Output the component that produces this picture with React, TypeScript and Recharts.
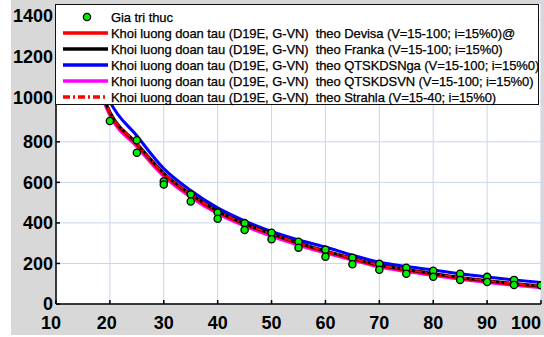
import React from "react";
import {
  ComposedChart,
  Line,
  Scatter,
  XAxis,
  YAxis,
  CartesianGrid,
} from "recharts";

// ---- Data ----
const speeds = [15, 20, 25, 30, 35, 40, 45, 50, 55, 60, 65, 70, 75, 80, 85, 90, 95, 100];
const devisa = [1310, 940, 785, 638, 535, 453, 392, 342, 297, 258, 222, 188, 166, 146, 127, 111, 97, 85];
const franka = [1320, 948, 792, 645, 541, 458, 396, 346, 301, 262, 226, 192, 170, 150, 131, 115, 101, 89];
const qtskdsNga = [1380, 1000, 830, 668, 560, 474, 410, 358, 316, 281, 241, 206, 185, 168, 149, 133, 119, 106];
const qtskdsVN = [1300, 930, 776, 630, 527, 445, 384, 334, 290, 251, 216, 182, 160, 141, 122, 106, 92, 80];
const strahla = [1320, 948, 792, 645, 541, 458, 396, 346, 301, 262, 226, 192, 170, 150, 131, 115, 101, 89];

const obsSpeeds = [20, 25, 25, 30, 30, 35, 35, 40, 40, 45, 45, 50, 50, 55, 55, 60, 60, 65, 65, 70, 70, 75, 75, 80, 80, 85, 85, 90, 90, 95, 95, 100];
const obsMass = [903, 808, 746, 605, 590, 541, 506, 451, 421, 399, 365, 352, 320, 307, 278, 268, 233, 228, 196, 198, 169, 179, 149, 164, 134, 149, 119, 134, 109, 119, 94, 92];

const xTicks = [10, 20, 30, 40, 50, 60, 70, 80, 90, 100];
const yTicks = [0, 200, 400, 600, 800, 1000, 1200, 1400];

const obsName = "Gia tri thuc";
const seriesKeys = ["devisa", "franka", "qtskdsNga", "qtskdsVN", "strahla"];
const seriesNames = [
  "Khoi luong doan tau (D19E, G-VN)  theo Devisa (V=15-100; i=15%0)@",
  "Khoi luong doan tau (D19E, G-VN)  theo Franka (V=15-100; i=15%0)",
  "Khoi luong doan tau (D19E, G-VN)  theo QTSKDSNga (V=15-100; i=15%0)",
  "Khoi luong doan tau (D19E, G-VN)  theo QTSKDSVN (V=15-100; i=15%0)",
  "Khoi luong doan tau (D19E, G-VN)  theo Strahla (V=15-40; i=15%0)",
];
const seriesColors = ["#ff0000", "#000000", "#0000ff", "#ff00ff", "#ff0000"];
const seriesDash = ["", "", "", "", "7 3 2 3"];

const chartData = speeds.map((v, i) => ({
  v,
  devisa: devisa[i],
  franka: franka[i],
  qtskdsNga: qtskdsNga[i],
  qtskdsVN: qtskdsVN[i],
  strahla: strahla[i],
}));
const obsData = obsSpeeds.map((v, i) => ({ v, m: obsMass[i] }));

const tickFont = {
  fontFamily: "'Liberation Sans', Arial, sans-serif",
  fontWeight: 700,
  fontSize: 18,
  fill: "#000",
};

const XTick = (props: any) => {
  const { x, y, payload } = props;
  const val = payload.value;
  let anchor: any = "middle";
  let dx = 0;
  if (val === 100) {
    anchor = "end";
  } else if (val === 10) {
    dx = -5;
  } else if (val === 20) {
    dx = -3;
  }
  return (
    <text x={x + dx} y={y} dy="0.71em" textAnchor={anchor} {...tickFont}>
      {val}
    </text>
  );
};

const YTick = (props: any) => {
  const { x, y, payload } = props;
  const val = payload.value;
  let dy = 0;
  if (val === 1400) dy = -5;
  else if (val >= 1000) dy = -4;
  return (
    <text x={x} y={y + dy} dy="0.355em" textAnchor="end" {...tickFont}>
      {val}
    </text>
  );
};

const Dot = (props: any) => {
  const { cx, cy } = props;
  return <circle cx={cx} cy={cy} r={3.6} fill="#00ee00" stroke="#000" strokeWidth={1.3} />;
};

const LegendBox = () => (
  <div
    style={{
      position: "absolute",
      left: 55,
      top: 4,
      width: 482,
      height: 99,
      background: "#fff",
      border: "1.5px solid #111",
      fontFamily: "'Liberation Sans', Arial, sans-serif",
      fontSize: 13,
      letterSpacing: "-0.08px",
      WebkitTextStroke: "0.25px #000",
      color: "#000",
      boxSizing: "content-box",
    }}
  >
    <div style={{ position: "absolute", left: 0, top: 4 }}>
      <div style={{ display: "flex", alignItems: "center", height: 16 }}>
        <svg width={55} height={16} style={{ display: "block" }}>
          <circle cx={31} cy={8} r={3.6} fill="#00ee00" stroke="#000" strokeWidth={1.3} />
        </svg>
        <span style={{ whiteSpace: "pre" }}>{obsName}</span>
      </div>
      {seriesNames.map((n, i) => (
        <div key={n} style={{ display: "flex", alignItems: "center", height: 16 }}>
          <svg width={55} height={16} style={{ display: "block" }}>
            <line
              x1={7}
              x2={52}
              y1={8}
              y2={8}
              stroke={seriesColors[i]}
              strokeWidth={3.5}
              strokeDasharray={seriesDash[i] || undefined}
            />
          </svg>
          <span style={{ whiteSpace: "pre" }}>{n}</span>
        </div>
      ))}
    </div>
  </div>
);

export default function App() {
  return (
    <div style={{ position: "absolute", left: 0, top: 0, width: 544, height: 337, background: "#fff" }}>
      <div style={{ position: "absolute", left: 11, top: 0, width: 533, height: 335, background: "#d8d8d8" }} />
      <div style={{ position: "absolute", left: 0, top: 0 }}>
        <ComposedChart
          width={544}
          height={337}
          data={chartData}
          margin={{ top: 4, right: 3, bottom: 0, left: 0 }}
        >
          <CartesianGrid
            fill="#ffffff"
            stroke="#c9d5ee"
            strokeWidth={1}
            horizontalValues={yTicks}
            verticalValues={xTicks}
          />
          <XAxis
            type="number"
            dataKey="v"
            domain={[10, 100]}
            ticks={xTicks}
            height={33}
            interval={0}
            stroke="#000"
            strokeWidth={1.5}
            tickSize={-4}
            tickMargin={16}
            tick={<XTick />}
            allowDataOverflow
          />
          <XAxis
            xAxisId="t"
            orientation="top"
            type="number"
            dataKey="v"
            domain={[10, 100]}
            ticks={xTicks}
            height={0}
            interval={0}
            stroke="#000"
            strokeWidth={1.5}
            tickSize={-4}
            tick={false}
            allowDataOverflow
          />
          <YAxis
            type="number"
            domain={[0, 1480]}
            ticks={yTicks}
            width={56}
            interval={0}
            stroke="#000"
            strokeWidth={1.5}
            tickSize={-4}
            tickMargin={7}
            tick={<YTick />}
            allowDataOverflow
          />
          <YAxis
            yAxisId="r"
            orientation="right"
            type="number"
            domain={[0, 1480]}
            ticks={yTicks}
            width={0}
            interval={0}
            stroke="#000"
            strokeWidth={1.5}
            tickSize={-4}
            tick={false}
            allowDataOverflow
          />
          {[2, 3, 0, 1, 4].map((i) => (
            <Line
              key={seriesKeys[i]}
              type="monotone"
              dataKey={seriesKeys[i]}
              name={seriesNames[i]}
              stroke={seriesColors[i]}
              strokeWidth={i === 4 ? 2 : 3}
              strokeDasharray={seriesDash[i] || undefined}
              dot={false}
              activeDot={false}
              isAnimationActive={false}
            />
          ))}
          <Scatter
            name={obsName}
            data={obsData}
            dataKey="m"
            shape={<Dot />}
            isAnimationActive={false}
          />
        </ComposedChart>
      </div>
      <LegendBox />
    </div>
  );
}
